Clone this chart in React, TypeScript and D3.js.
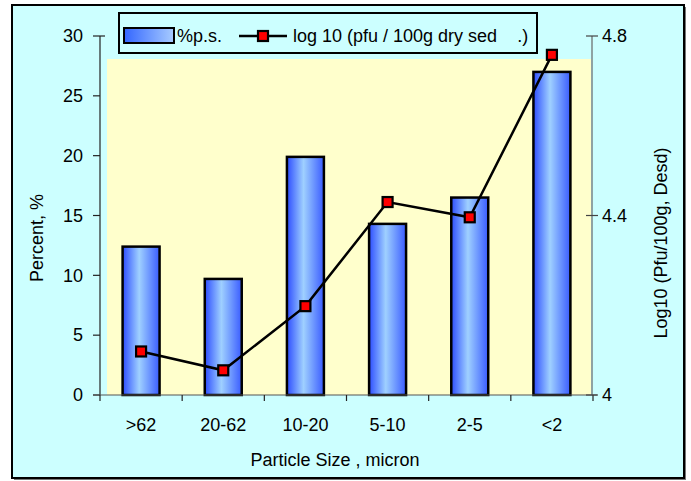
import React from "react";
import * as d3 from "d3";

const categories = [">62", "20-62", "10-20", "5-10", "2-5", "<2"];
const percentValues = [12.4, 9.7, 19.9, 14.3, 16.5, 27.0];
const logValues = [4.097, 4.055, 4.198, 4.43, 4.396, 4.758];
const leftTicks = [0, 5, 10, 15, 20, 25, 30];
const rightTicks = [4, 4.4, 4.8];
const legendLabels = ["%p.s.", "log 10 (pfu / 100g dry sed    .)"];
const xTitle = "Particle Size , micron";
const yLeftTitle = "Percent, %";
const yRightTitle = "Log10 (Pfu/100g, Desd)";

const W = 691;
const H = 481;
const FONT = "'Liberation Sans', Arial, sans-serif";

export default function App() {
  const x0 = 100, x1 = 593, yTop = 36, yBot = 395;
  const x = d3.scaleBand<string>().domain(categories).range([x0, x1]).paddingInner(0.55).paddingOuter(0.275);
  const yL = d3.scaleLinear().domain([0, 30]).range([yBot, yTop]);
  const yR = d3.scaleLinear().domain([4, 4.8]).range([yBot, yTop]);
  const step = x.step();
  const cx = (c: string) => (x(c) as number) + x.bandwidth() / 2;
  const line = d3.line<number>().x((_, i) => cx(categories[i])).y((d) => yR(d));
  const fs = 18;

  return (
    <svg width={W} height={H} style={{ position: "absolute", left: 0, top: 0 }} fontFamily={FONT}>
      <defs>
        <linearGradient id="barGrad" x1="0" x2="1" y1="0" y2="0">
          <stop offset="0%" stopColor="#2d4dff" />
          <stop offset="45%" stopColor="#9fd0ff" />
          <stop offset="100%" stopColor="#3a5cff" />
        </linearGradient>
        <linearGradient id="legGrad" x1="0" x2="1" y1="0" y2="0">
          <stop offset="0%" stopColor="#3366ff" />
          <stop offset="100%" stopColor="#a8ccff" />
        </linearGradient>
      </defs>
      <rect x={0} y={0} width={W} height={H} fill="#ffffff" />
      {/* frame shadow */}
      <rect x={14} y={7} width={672} height={473} fill="#777" />
      <rect x={12} y={5} width={672} height={473} fill="#ccffff" stroke="#000" strokeWidth={2} />
      {/* plot area */}
      <rect x={107} y={59} width={484} height={yBot - 59} fill="#ffffcc" />

      {/* bars */}
      {percentValues.map((v, i) => (
        <rect key={i} x={x(categories[i])} y={yL(v)} width={x.bandwidth()} height={yL(0) - yL(v)}
          fill="url(#barGrad)" stroke="#000" strokeWidth={2.5} />
      ))}

      {/* left axis */}
      <line x1={x0} x2={x0} y1={yTop} y2={yBot} stroke="#222" strokeWidth={1.2} />
      {leftTicks.map((t) => (
        <g key={t}>
          <line x1={x0 - 7} x2={x0} y1={yL(t)} y2={yL(t)} stroke="#222" strokeWidth={1.2} />
          <text x={83} y={yL(t)} dy="0.35em" textAnchor="end" fontSize={fs} fill="#000">{t}</text>
        </g>
      ))}
      <line x1={x0} x2={x0 + 5} y1={yTop} y2={yTop} stroke="#222" strokeWidth={1.2} />

      {/* x axis */}
      <line x1={x0 - 7} x2={x1 + 4} y1={yBot} y2={yBot} stroke="#555" strokeWidth={1.2} />
      {d3.range(categories.length + 1).map((i) => (
        <line key={i} x1={x0 + i * step} x2={x0 + i * step} y1={yBot} y2={yBot + 6} stroke="#222" strokeWidth={1.2} />
      ))}
      {categories.map((c) => (
        <text key={c} x={cx(c)} y={431} textAnchor="middle" fontSize={fs} fill="#000">{c}</text>
      ))}
      <text x={335} y={466} textAnchor="middle" fontSize={fs} fill="#000">{xTitle}</text>

      {/* right axis */}
      <line x1={592} x2={592} y1={yTop} y2={yBot} stroke="#666" strokeWidth={1.2} />
      {rightTicks.map((t) => (
        <g key={t}>
          <line x1={586} x2={598} y1={yR(t)} y2={yR(t)} stroke="#444" strokeWidth={1.2} />
          <text x={602} y={yR(t)} dy="0.35em" textAnchor="start" fontSize={fs} fill="#000">{t}</text>
        </g>
      ))}

      <text transform={`translate(43,238) rotate(-90)`} textAnchor="middle" fontSize={fs} fill="#000">{yLeftTitle}</text>
      <text transform={`translate(667,243) rotate(-90)`} textAnchor="middle" fontSize={fs} fill="#000">{yRightTitle}</text>

      {/* line series */}
      <path d={line(logValues) || ""} fill="none" stroke="#000" strokeWidth={2.5} />
      {logValues.map((v, i) => (
        <rect key={i} x={cx(categories[i]) - 5} y={yR(v) - 5} width={10} height={10} fill="#ff0000" stroke="#000" strokeWidth={2.2} />
      ))}

      {/* legend */}
      <rect x={119} y={13} width={418} height={40} fill="#ccffff" stroke="#000" strokeWidth={2} />
      <rect x={124} y={28} width={50} height={15} fill="url(#legGrad)" stroke="#000" strokeWidth={2} />
      <text x={177} y={42} fontSize={fs} fill="#000">{legendLabels[0]}</text>
      <line x1={239} x2={287} y1={36} y2={36} stroke="#000" strokeWidth={2.5} />
      <rect x={258} y={31} width={10} height={10} fill="#ff0000" stroke="#000" strokeWidth={2.2} />
      <text x={293} y={42} fontSize={fs} fill="#000" style={{ whiteSpace: "pre" }}>{legendLabels[1]}</text>
    </svg>
  );
}
